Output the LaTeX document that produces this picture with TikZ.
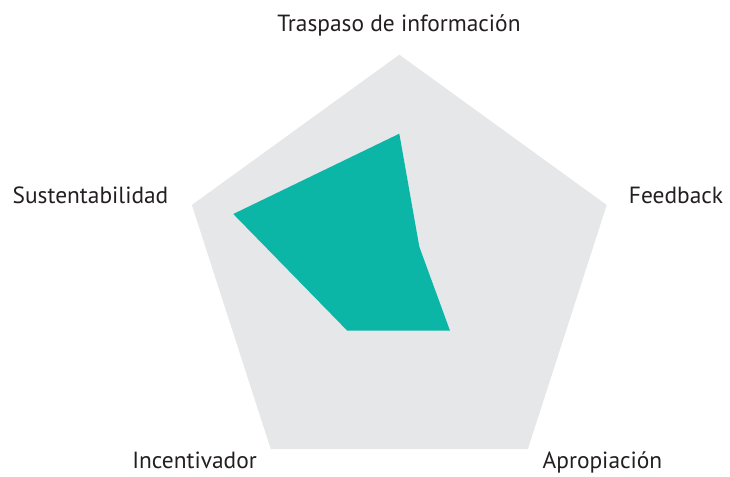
\documentclass[tikz,border=0pt]{standalone}
\usepackage{fontspec}
\setmainfont{PT Sans}
\definecolor{pentagray}{RGB}{230,231,232}
\definecolor{radarteal}{RGB}{11,182,167}
\definecolor{labelink}{RGB}{35,31,32}
\begin{document}
\begin{tikzpicture}[x=1pt,y=-1pt,
  axislabel/.style={anchor=base,inner sep=0pt,text=labelink,font=\fontsize{23.4}{26}\selectfont}]
\useasboundingbox (0,0) rectangle (730,476);
% background pentagon
\fill[pentagray] (399.3,54.7) -- (606.7,205) -- (527.8,449.2) -- (270.8,449.2) -- (191.9,205) -- cycle;
% data polygon
\fill[radarteal] (399.3,133.7) -- (419.3,246.7) -- (450,330.7) -- (347.3,330.7) -- (233.3,214) -- cycle;
% labels
\node[axislabel] (tra) at (399,32) {Traspaso de información};
\node[axislabel] (fee) at (676,203) {Feedback};
\node[axislabel] (apr) at (602.5,468) {Apropiación};
\node[axislabel] (inc) at (194.5,468) {Incentivador};
\node[axislabel] (sus) at (90.5,203) {Sustentabilidad};
\end{tikzpicture}
\end{document}
